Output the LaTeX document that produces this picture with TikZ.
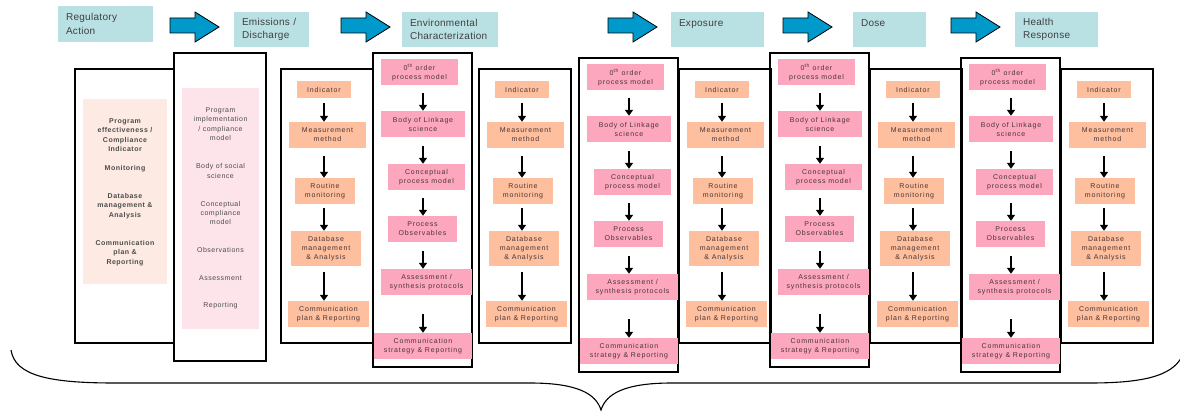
\documentclass[tikz,border=0pt]{standalone}
\usepackage{fontspec}
\setmainfont{Liberation Sans}
\newfontfamily\hdrfont[LetterSpace=3]{Liberation Sans}
\newfontfamily\boxfont[LetterSpace=12]{Liberation Sans}
\newfontfamily\sidefont[LetterSpace=7]{Liberation Sans}
\usetikzlibrary{arrows.meta}
\definecolor{hdrteal}{HTML}{B9E0E3}
\definecolor{blockblue}{HTML}{0099CC}
\definecolor{peach}{HTML}{FDBF9E}
\definecolor{rose}{HTML}{FDA7BE}
\definecolor{palepeach}{HTML}{FDEAE2}
\definecolor{palerose}{HTML}{FDE4EA}
\definecolor{boxtext}{HTML}{4A3434}

\tikzset{
  hdr/.style={fill=hdrteal, inner xsep=8pt, inner ysep=0pt, minimum height=35pt, align=left,
    text=black!75, font=\hdrfont\fontsize{10}{13.5}\selectfont},
  colframe/.style={draw, line width=1.1pt, inner sep=0pt},
  ibox/.style={fill=peach, inner sep=0pt, align=center, text=boxtext,
    font=\boxfont\fontsize{7}{9}\selectfont},
  lbox/.style={ibox, fill=rose},
  sidetext/.style={align=center, inner sep=0pt, text=black!70, font=\sidefont\fontsize{7}{9.4}\selectfont},
  flow/.style={->, line width=1.8pt},
}

\begin{document}
\begin{tikzpicture}[x=1pt, y=-1pt, >={Triangle[length=6pt,width=8pt]}]
    \useasboundingbox (0,0) rectangle (1180,412);
    % header row
    \node[hdr, text width=79pt, minimum height=36pt] (reg) at (105.5,24) {Regulatory\\Action};
    \node[hdr, text width=59pt] (emis) at (271.5,29.5) {Emissions /\\Discharge};
    \node[hdr, text width=80pt] (env) at (450,29.5) {Environmental\\Characterization};
    \node[hdr, text width=77pt] (expo) at (717.5,29.5) {Exposure\\\mbox{}};
    \node[hdr, text width=57pt] (dose) at (889.5,29.5) {Dose\\\mbox{}};
    \node[hdr, text width=67pt] (health) at (1056.5,29.5) {Health\\Response};
    \foreach \x in {170,341,608,783,951}
        \filldraw[fill=blockblue, line width=0.8pt] (\x,18) -- ++(25,0) -- ++(0,-6) -- ++(24,15)
            -- ++(-24,15) -- ++(0,-9) -- ++(-25,0) -- cycle;

    % regulatory columns
    \node[colframe, minimum width=99pt, minimum height=274pt] (acol) at (124.5,206) {};
    \node[colframe, minimum width=92pt, minimum height=308pt] (bcol) at (220,207) {};
    \node[fill=palepeach, inner sep=0pt, minimum width=84pt, minimum height=185pt] (effbox) at (125,191.5) {};
    \node[fill=palerose, inner sep=0pt, minimum width=77pt, minimum height=241pt] (implbox) at (220.5,208.5) {};
    \node[sidetext, font=\sidefont\bfseries\fontsize{7}{9.4}\selectfont] (eff) at (125,135) {Program\\effectiveness /\\Compliance\\Indicator};
    \node[sidetext, font=\sidefont\bfseries\fontsize{7}{9.4}\selectfont] (mon) at (125,169) {Monitoring};
    \node[sidetext, font=\sidefont\bfseries\fontsize{7}{9.4}\selectfont] (dbm) at (125,206) {Database\\management \&\\Analysis};
    \node[sidetext, font=\sidefont\bfseries\fontsize{7}{9.4}\selectfont] (cpr) at (125,253) {Communication\\plan \&\\Reporting};
    \node[sidetext] (impl) at (220.5,124) {Program\\implementation\\/ compliance\\model};
    \node[sidetext] (social) at (220.5,171) {Body of social\\science};
    \node[sidetext] (ccm) at (220.5,213) {Conceptual\\compliance\\model};
    \node[sidetext] (obsv) at (220.5,250) {Observations};
    \node[sidetext] (assess) at (220.5,278) {Assessment};
    \node[sidetext] (rep) at (220.5,306) {Reporting};

    % indicator columns
    \foreach \L [count=\n] in {281,479,679,870,1061} {
        \node[colframe, minimum width=92pt, minimum height=274pt] (icol\n) at ({\L+46},206) {};
        \node[ibox, minimum width=54pt, minimum height=17pt] (ind\n) at ({\L+43},89.5) {Indicator};
        \node[ibox, minimum width=77pt, minimum height=26pt] (meas\n) at ({\L+46.5},135) {Measurement\\method};
        \node[ibox, minimum width=60pt, minimum height=26pt] (rout\n) at ({\L+44},191) {Routine\\monitoring};
        \node[ibox, minimum width=70pt, minimum height=35pt] (db\n) at ({\L+45},248.5) {Database\\management\\\& Analysis};
        \node[ibox, minimum width=81pt, minimum height=26pt] (comm\n) at ({\L+47.5},314) {Communication\\plan \& Reporting};
        \draw[flow, shorten <=5pt] (ind\n) -- (meas\n.north -| ind\n);
        \draw[flow, shorten <=8pt] (meas\n.south -| ind\n) -- (rout\n.north -| ind\n);
        \draw[flow, shorten <=4pt] (rout\n.south -| ind\n) -- (db\n.north -| ind\n);
        \draw[flow, shorten <=6pt] (db\n.south -| ind\n) -- (comm\n.north -| ind\n);
    }

    % linkage columns
    \foreach \L/\T [count=\n] in {373/53, 579/58, 770/53, 961/58} {
        \node[colframe, minimum width=99pt, minimum height=314pt] (lcol\n) at ({\L+49.5},{\T+157}) {};
        \node[lbox, minimum width=77pt, minimum height=26pt] (zero\n) at ({\L+46.5},{\T+19}) {0\textsuperscript{th} order\\process model};
        \node[lbox, minimum width=84pt, minimum height=26pt] (body\n) at ({\L+50},{\T+71}) {Body of Linkage\\science};
        \node[lbox, minimum width=77pt, minimum height=26pt] (conc\n) at ({\L+53.5},{\T+124}) {Conceptual\\process model};
        \node[lbox, minimum width=69pt, minimum height=26pt] (obs\n) at ({\L+49.5},{\T+176}) {Process\\Observables};
        \node[lbox, minimum width=91pt, minimum height=26pt] (asmt\n) at ({\L+53.5},{\T+229}) {Assessment /\\synthesis protocols};
        \node[lbox, minimum width=98pt, minimum height=26pt] (strat\n) at ({\L+50},{\T+293}) {Communication\\strategy \& Reporting};
        \draw[flow, shorten <=8pt] (zero\n.south -| body\n) -- (body\n.north);
        \draw[flow, shorten <=9pt] (body\n) -- (conc\n.north -| body\n);
        \draw[flow, shorten <=8pt] (conc\n.south -| body\n) -- (obs\n.north -| body\n);
        \draw[flow, shorten <=9pt] (obs\n.south -| body\n) -- (asmt\n.north -| body\n);
        \draw[flow, shorten <=19pt] (asmt\n.south -| body\n) -- (strat\n.north);
    }

    % brace
    \draw[line width=1.1pt] (11,350) .. controls (15,376) and (50,383) .. (115,383) -- (530,383)
        .. controls (578,383) and (596,394) .. (601,410) .. controls (606,394) and (624,383) .. (672,383)
        -- (1090,383) .. controls (1150,383) and (1176,374) .. (1184,352);
\end{tikzpicture}
\end{document}
